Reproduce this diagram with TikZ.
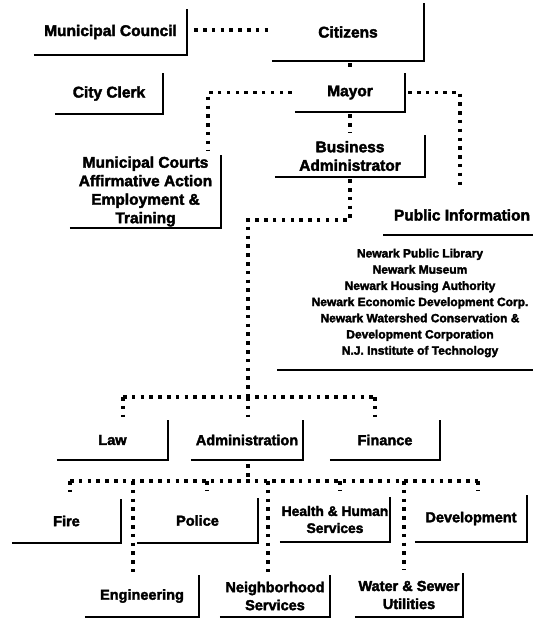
\documentclass[tikz,border=0pt]{standalone}
\usepackage{fontspec}
\newfontfamily\heavy[FakeBold=2.5]{Liberation Sans Bold}
\tikzset{
  lab/.style={font=\heavy\fontsize{14.5}{18}\selectfont, align=center, inner sep=0pt},
  big/.style={font=\heavy\fontsize{15.5}{18.5}\selectfont},
  small/.style={font=\heavy\fontsize{12}{16.2}\selectfont, align=center, inner sep=0pt},
  boxline/.style={line width=1.9pt},
  dots/.style={line width=3.5pt, dash pattern=on 3.5pt off 5.3pt},
}
% [extra style], name, left, top, right, bottom, text
\newcommand\orgbox[7][]{%
  \node[lab, #1, minimum width={(#5-#3)*1pt}, minimum height={(#6-#4)*1pt}] (#2) at ({(#3+#5)/2},{(#4+#6)/2}) {#7};
  \draw[boxline] (#2.south west) -- (#2.south east) -- (#2.north east);
}
\begin{document}
\begin{tikzpicture}[x=1pt,y=-1pt]
\useasboundingbox (0,0) rectangle (533,618);
% boxes
\orgbox[big]{council}{34}{9}{187}{55}{Municipal Council}
\orgbox[big]{citizens}{272}{3}{424}{61}{Citizens}
\orgbox[big]{clerk}{55}{73}{163}{114}{City Clerk}
\orgbox[big]{mayor}{295}{73}{405}{112}{Mayor}
\orgbox[big]{courts}{70}{155}{221}{228}{Municipal Courts\\Affirmative Action\\Employment \&\\Training}
\orgbox[big]{ba}{275}{135}{425}{177}{Business\\Administrator}
\node[lab, big] (pubinfo) at (462,215) {Public Information};
\coordinate (piL) at (383,235);
\coordinate (piR) at (533,235);
\draw[boxline] (piL) -- (piR);
\node[small] (inst) at (420,303) {Newark Public Library\\Newark Museum\\Newark Housing Authority\\Newark Economic Development Corp.\\Newark Watershed Conservation \&\\Development Corporation\\N.J. Institute of Technology};
\coordinate (instL) at (277,370);
\coordinate (instR) at (533,370);
\draw[boxline] (instL) -- (instR);
\orgbox{law}{57}{420}{168}{460}{Law}
\orgbox{admin}{191}{420}{303}{460}{Administration}
\orgbox{finance}{330}{420}{440}{460}{Finance}
\orgbox{fire}{12}{499}{121}{543}{Fire}
\orgbox{police}{137}{498}{258}{543}{Police}
\orgbox[font=\heavy\fontsize{13.8}{17}\selectfont]{health}{280}{497}{390}{542}{Health \& Human\\Services}
\orgbox{dev}{415}{495}{527}{542}{Development}
\orgbox{eng}{85}{575}{199}{617}{Engineering}
\orgbox{neigh}{220}{575}{330}{617}{Neighborhood\\Services}
\orgbox{water}{355}{573}{463}{617}{Water \& Sewer\\Utilities}
% connectors
\draw[dots, shorten <=7pt, shorten >=3pt] ([yshift=2pt]council.east) -- ([yshift=2pt]council.east -| citizens.west);
\draw[dots] ([yshift=-2pt]citizens.south -| mayor.north) -- ([yshift=2pt]mayor.north);
\coordinate (ctTop) at (208,150);
\draw[dots] ([xshift=-3pt]mayor.west) -| (ctTop);
\coordinate (piTop) at (460,190);
\draw[dots] ([xshift=3pt]mayor.east) -| (piTop);
\draw[dots] ([yshift=-2pt]mayor.south) -- ([yshift=2pt]ba.north);
\coordinate (bend1) at (248,220);
\coordinate (hub1) at (248,397);
\draw[dots] ([yshift=-2pt]ba.south) |- (bend1) -- (hub1);
\coordinate (lawDrop) at (123,397);
\coordinate (finDrop) at (375,397);
\draw[dots] (lawDrop) -- (finDrop);
\draw[dots, shorten >=3pt] (lawDrop) -- (lawDrop |- law.north);
\draw[dots, shorten >=3pt] (hub1) -- (hub1 |- admin.north);
\draw[dots, shorten >=3pt] (finDrop) -- (finDrop |- finance.north);
\coordinate (hub2) at (248,481);
\draw[dots, shorten <=4pt] (hub2 |- admin.south) -- (hub2);
\coordinate (dFire) at (70,481);
\coordinate (dEng) at (133,481);
\coordinate (dPol) at (207,481);
\coordinate (dNeigh) at (268,481);
\coordinate (dHealth) at (340,481);
\coordinate (dWater) at (404,481);
\coordinate (dDev) at (478,481);
\draw[dots] (dFire) -- (dDev);
\draw[dots, shorten >=7pt] (dFire) -- (dFire |- fire.north);
\draw[dots, shorten >=7pt] (dPol) -- (dPol |- police.north);
\draw[dots, shorten >=6pt] (dHealth) -- (dHealth |- health.north);
\draw[dots, shorten >=4pt] (dDev) -- (dDev |- dev.north);
\draw[dots, shorten >=3pt] (dEng) -- (dEng |- eng.north);
\draw[dots, shorten >=3pt] (dNeigh) -- (dNeigh |- neigh.north);
\draw[dots, shorten >=3pt] (dWater) -- (dWater |- water.north);
\end{tikzpicture}
\end{document}
